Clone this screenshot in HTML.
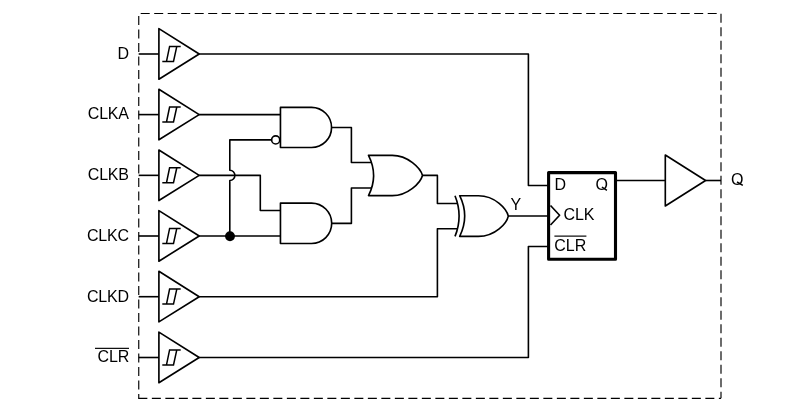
<!DOCTYPE html>
<html><head><meta charset="utf-8"><style>
html,body{margin:0;padding:0;background:#fff;}
svg{display:block;will-change:transform;}
.g{fill:none;stroke:#000;stroke-width:1.65;stroke-linejoin:round;}
.w{fill:none;stroke:#000;stroke-width:1.6;stroke-linejoin:round;}
.h{fill:none;stroke:#000;stroke-width:1.5;}
.t{font-family:"Liberation Sans",sans-serif;font-size:16px;fill:#000;}
</style></head><body>
<svg width="812" height="412" viewBox="0 0 812 412">
<path d="M138.75,398.3 V13.5 H721 V398.3" fill="none" stroke="#000" stroke-width="1.15" stroke-dasharray="9 4.5" stroke-dashoffset="4.75"/>
<path d="M721,398.3 H138.75 V397.9" fill="none" stroke="#000" stroke-width="1.15" stroke-dasharray="9 4.5" stroke-dashoffset="6.85"/>
<path d="M158.9,28.60 L199.2,54.00 L158.9,79.20 Z" class="g"/><path d="M162.3,61.40 H173.5 L176.8,46.40 M180.7,46.40 H169.6 L166.5,61.40" class="h"/><path d="M138.7,54.00 H159" class="w"/>
<path d="M158.9,89.20 L199.2,114.60 L158.9,139.80 Z" class="g"/><path d="M162.3,122.00 H173.5 L176.8,107.00 M180.7,107.00 H169.6 L166.5,122.00" class="h"/><path d="M138.7,114.60 H159" class="w"/>
<path d="M158.9,149.95 L199.2,175.35 L158.9,200.55 Z" class="g"/><path d="M162.3,182.75 H173.5 L176.8,167.75 M180.7,167.75 H169.6 L166.5,182.75" class="h"/><path d="M138.7,175.35 H159" class="w"/>
<path d="M158.9,210.60 L199.2,236.00 L158.9,261.20 Z" class="g"/><path d="M162.3,243.40 H173.5 L176.8,228.40 M180.7,228.40 H169.6 L166.5,243.40" class="h"/><path d="M138.7,236.00 H159" class="w"/>
<path d="M158.9,271.30 L199.2,296.70 L158.9,321.90 Z" class="g"/><path d="M162.3,304.10 H173.5 L176.8,289.10 M180.7,289.10 H169.6 L166.5,304.10" class="h"/><path d="M138.7,296.70 H159" class="w"/>
<path d="M158.9,332.10 L199.2,357.50 L158.9,382.70 Z" class="g"/><path d="M162.3,364.90 H173.5 L176.8,349.90 M180.7,349.90 H169.6 L166.5,364.90" class="h"/><path d="M138.7,357.50 H159" class="w"/>
<text x="128.8" y="58.60" text-anchor="end" class="t" letter-spacing="-0.2">D</text>
<text x="128.8" y="119.20" text-anchor="end" class="t" letter-spacing="-0.2">CLKA</text>
<text x="128.8" y="179.95" text-anchor="end" class="t" letter-spacing="-0.2">CLKB</text>
<text x="128.8" y="240.60" text-anchor="end" class="t" letter-spacing="-0.2">CLKC</text>
<text x="128.8" y="302.20" text-anchor="end" class="t" letter-spacing="-0.2">CLKD</text>
<text x="129.0" y="362.10" text-anchor="end" class="t" letter-spacing="-0.2">CLR</text>
<path d="M95.0,348.30 H129.0" fill="none" stroke="#111" stroke-width="1.25"/>
<path d="M199.2,54.0 H528.4 V185.5 H549" class="w"/>
<path d="M199.2,114.6 H280.5" class="w"/>
<path d="M199.2,175.35 H260.3 V210.5 H280.5" class="w"/>
<path d="M229.8,236.0 V180.45 A5.1,5.1 0 0 0 229.8,170.25 V139.9 H271.6" class="w"/>
<path d="M199.2,236.0 H280.5" class="w"/>
<circle cx="230.0" cy="236.3" r="4.95" fill="#000"/>
<circle cx="275.7" cy="139.9" r="4.05" class="g"/>
<path d="M280.45,107.4 H311.5 A20.05,20.05 0 0 1 311.5,147.5 H280.45 Z" class="g"/>
<path d="M280.45,203.1 H311.5 A20.20,20.20 0 0 1 311.5,243.5 H280.45 Z" class="g"/>
<path d="M331.5,127.5 H351.4 V162.5 H372" class="w"/>
<path d="M331.5,223.4 H351.4 V188.0 H372" class="w"/>
<path d="M368.5,155.3 H392.3 C407.8,155.3 420.5,167.9 422.5,175.45 C420.5,182.9 407.8,195.6 392.3,195.6 H368.5 Q378.7,175.45 368.5,155.3 Z" class="g"/>
<path d="M422.5,175.4 H437.4 V203.5 H458" class="w"/>
<path d="M199.2,296.7 H437.4 V228.8 H458" class="w"/>
<path d="M455,195.7 Q463.2,216.05 455,236.4" class="g"/>
<path d="M459.7,195.7 H478.4 C495.4,195.7 506.8,209.1 508.3,216.05 C506.8,223.1 495.4,236.4 478.4,236.4 H459.7 Q469.7,216.05 459.7,195.7 Z" class="g"/>
<path d="M508.3,216.0 H549" class="w"/>
<text x="510.5" y="210" class="t">Y</text>
<path d="M199.2,357.5 H528.4 V246.5 H549" class="w"/>
<rect x="548.6" y="172.6" width="66.9" height="86.6" fill="none" stroke="#000" stroke-width="3.1" stroke-linejoin="round"/>
<path d="M550.5,205.5 L559.6,215.3 L550.5,225.0" class="g" stroke-width="1.6"/>
<text x="554.5" y="190" class="t">D</text>
<text x="607.9" y="189.9" text-anchor="end" class="t">O</text>
<path d="M601.9,187.0 L606.9,190.4" fill="none" stroke="#000" stroke-width="1.5"/>
<text x="563.4" y="219.6" class="t">CLK</text>
<text x="554.3" y="250.6" class="t">CLR</text>
<path d="M554.4,236.2 H586.4" fill="none" stroke="#111" stroke-width="1.25"/>
<path d="M615.5,180.5 H665.4" class="w"/>
<path d="M665.3,155.0 L705.6,180.5 L665.3,206.0 Z" class="g"/>
<path d="M705.6,180.5 H721" class="w"/>
<text x="731" y="185" class="t">O</text>
<path d="M737.0,182.0 L742.8,185.4" fill="none" stroke="#000" stroke-width="1.5"/>
</svg>
</body></html>
